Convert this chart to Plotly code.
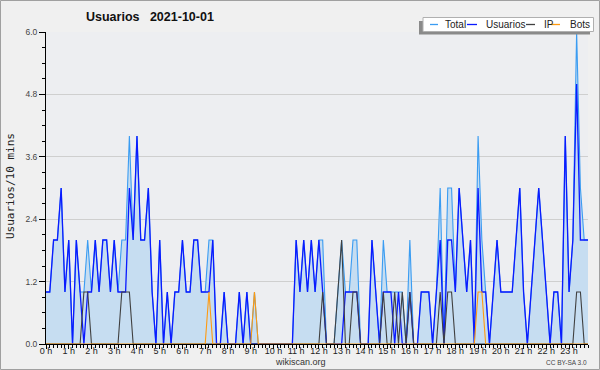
import plotly.graph_objects as go

# 10-minute slots, 00:00 .. 23:50
usuarios = [1,1,2,2,3,1, 2,0,2,1,0,1, 1,2,1,2,2,1, 2,1,1,1,3,2,
            4,2,2,3,1,0, 2,0,1,0,1,1, 2,1,1,2,2,1, 1,1,2,0,0,1,
            0,0,0,1,0,1, 0,0,0,0,0,0, 0,0,0,0,0,0, 2,1,2,1,2,1,
            2,1,0,0,0,0, 0,1,1,1,1,0, 0,0,2,1,0,1, 1,1,0,1,0,0,
            1,0,0,1,1,1, 0,1,2,0,2,2, 1,3,2,1,2,0, 3,1,1,0,1,2,
            1,1,1,1,2,3, 1,0,1,2,3,2, 1,0,1,1,0,4, 1,2,5,2,2,2]
ip = [0,0,0,0,0,0, 0,0,0,0,1,1, 0,0,0,0,0,0, 0,0,1,1,1,0,
      0,0,0,0,0,0, 0,0,0,0,0,0, 0,0,0,0,0,0, 0,0,0,0,0,0,
      0,0,0,0,0,0, 0,0,0,0,0,0, 0,0,0,0,0,0, 0,0,0,0,0,0,
      0,1,0,0,0,1, 2,0,0,1,1,0, 0,0,0,0,0,1, 0,0,1,0,1,0,
      1,0,0,0,0,0, 0,0,1,0,1,1, 0,0,0,0,0,0, 0,0,0,0,0,0,
      0,0,0,0,0,0, 0,0,0,0,0,0, 0,0,0,0,0,0, 0,0,1,1,0,0]
bots = [0,0,0,0,0,0, 0,0,0,0,0,0, 0,0,0,0,0,0, 0,0,0,0,0,0,
        0,0,0,0,0,0, 0,0,0,0,0,0, 0,0,0,0,0,0, 0,1,0,0,0,0,
        0,0,0,0,0,0, 0,1,0,0,0,0, 0,0,0,0,0,0, 0,0,0,0,0,0,
        0,0,0,0,0,0, 0,0,0,0,0,0, 0,0,0,0,0,0, 0,0,0,0,0,0,
        0,0,0,0,0,0, 0,0,0,0,0,0, 0,0,0,0,0,0, 1,1,0,0,0,0,
        0,0,0,0,0,0, 0,0,0,0,0,0, 0,0,0,0,0,0, 0,0,0,0,0,0]
total = [1,1,2,2,3,1, 2,0,2,1,1,2, 1,2,1,2,2,1, 2,1,2,2,4,2,
         4,2,2,3,1,0, 2,0,1,0,1,1, 2,1,1,2,2,1, 1,2,2,0,0,1,
         0,0,0,1,0,1, 0,1,0,0,0,0, 0,0,0,0,0,0, 2,1,2,1,2,1,
         2,2,0,0,0,1, 2,1,1,2,2,0, 0,0,2,1,0,2, 1,1,1,1,1,0,
         2,0,0,1,1,1, 0,1,3,0,3,3, 1,3,2,1,2,0, 4,2,1,0,1,2,
         1,1,1,1,2,3, 1,0,1,2,3,2, 1,0,1,1,0,4, 1,2,6,3,2,2]
hours = [i / 6 for i in range(len(total))]

series_names = ["Total", "Usuarios", "IP", "Bots"]
series_colors = ["#3a9cf2", "#0a1aff", "#404040", "#ff9a10"]

W, H = 600, 370
L, R, T, B = 46, 12, 32, 26


def px(x):
    return (x - L) / (W - L - R)


def py(y):
    return (H - B - y) / (H - T - B)


fig = go.Figure()
fig.add_trace(go.Scatter(x=hours, y=total, mode="lines", name="Total",
                         line=dict(color=series_colors[0], width=1.1),
                         fill="tozeroy", fillcolor="#c6ddf1"))
fig.add_trace(go.Scatter(x=hours, y=usuarios, mode="lines", name="Usuarios",
                         line=dict(color=series_colors[1], width=1.3)))
fig.add_trace(go.Scatter(x=hours, y=ip, mode="lines", name="IP",
                         line=dict(color=series_colors[2], width=1.1)))
fig.add_trace(go.Scatter(x=hours, y=bots, mode="lines", name="Bots",
                         line=dict(color=series_colors[3], width=1.1)))

shapes = []
annotations = []
# outer border
shapes.append(dict(type="rect", xref="paper", yref="paper",
                   x0=px(0.5), x1=px(599.5), y0=py(0.5), y1=py(369.5),
                   line=dict(color="#a0a0a0", width=1), layer="below"))
# legend shadow and box
shapes.append(dict(type="rect", xref="paper", yref="paper",
                   x0=px(419), x1=px(590), y0=py(34.5), y1=py(21),
                   fillcolor="#8a8a8a", line=dict(width=0)))
shapes.append(dict(type="rect", xref="paper", yref="paper",
                   x0=px(423), x1=px(593.5), y0=py(31.5), y1=py(17.5),
                   fillcolor="white", line=dict(color="#b0b0b0", width=1)))
leg_lines = [(430, 438), (467, 477), (526, 535), (551, 560)]
leg_text_x = [442.5, 484, 541.5, 567.5]
for (a, b), tx, name, col in zip(leg_lines, leg_text_x, series_names, series_colors):
    shapes.append(dict(type="line", xref="paper", yref="paper",
                       x0=px(a), x1=px(b), y0=py(24.5), y1=py(24.5),
                       line=dict(color=col, width=1.3)))
    annotations.append(dict(text=name, xref="paper", yref="paper",
                            x=px(tx), y=py(24.8), xanchor="left", yanchor="middle",
                            showarrow=False,
                            font=dict(family="Liberation Sans", size=10, color="#222")))

annotations.append(dict(text="Usuarios\u00a0\u00a0\u00a02021-10-01", xref="paper", yref="paper",
                        x=px(84), y=py(17), xanchor="left", yanchor="middle",
                        showarrow=False,
                        font=dict(family="Liberation Sans", size=12.5, color="#111",
                                  weight="bold")))
annotations.append(dict(text="Usuarios/10 mins", xref="paper", yref="paper",
                        x=px(10), y=py(186), xanchor="center", yanchor="middle",
                        textangle=-90, showarrow=False,
                        font=dict(family="DejaVu Sans Mono", size=11, color="#222")))
annotations.append(dict(text="wikiscan.org", xref="paper", yref="paper",
                        x=px(300), y=py(362), xanchor="center", yanchor="middle",
                        showarrow=False,
                        font=dict(family="Liberation Sans", size=9, color="#333")))
annotations.append(dict(text="CC BY-SA 3.0", xref="paper", yref="paper",
                        x=px(589), y=py(362.5), xanchor="right", yanchor="middle",
                        showarrow=False,
                        font=dict(family="Liberation Sans", size=6.5, color="#444")))

fig.update_layout(
    width=W, height=H,
    margin=dict(l=L, r=R, t=T, b=B, pad=0, autoexpand=False),
    paper_bgcolor="#f0f0f0",
    plot_bgcolor="#edeef1",
    showlegend=False,
    shapes=shapes,
    annotations=annotations,
    font=dict(family="Liberation Sans", size=9, color="#222"),
)
fig.update_xaxes(range=[0, hours[-1]], tickmode="linear", tick0=0, dtick=1,
                 ticksuffix=" h", tickformat="d", ticks="outside", ticklen=4,
                 tickcolor="black", showline=True, linecolor="black", linewidth=1,
                 showgrid=False, zeroline=False, automargin=False,
                 ticklabelstandoff=-6,
                 tickfont=dict(family="Liberation Sans", size=9, color="#222"),
                 minor=dict(tickmode="linear", tick0=0, dtick=1 / 6, ticks="outside",
                            ticklen=3, tickcolor="black", showgrid=False))
fig.update_yaxes(range=[0, 6], tickmode="linear", tick0=0, dtick=1.2,
                 tickformat=".1f", ticks="outside", ticklen=6, tickcolor="black",
                 showline=True, linecolor="black", linewidth=1,
                 showgrid=True, gridcolor="#cfcfcf", gridwidth=1, zeroline=False,
                 automargin=False,
                 tickfont=dict(family="Liberation Sans", size=8.5, color="#444"),
                 minor=dict(tickmode="linear", tick0=0, dtick=0.3, ticks="outside",
                            ticklen=3, tickcolor="black", showgrid=False))

fig.write_html("out.html", config={"displayModeBar": False},
               post_script="document.body.style.margin='0';document.body.style.overflow='hidden';")
